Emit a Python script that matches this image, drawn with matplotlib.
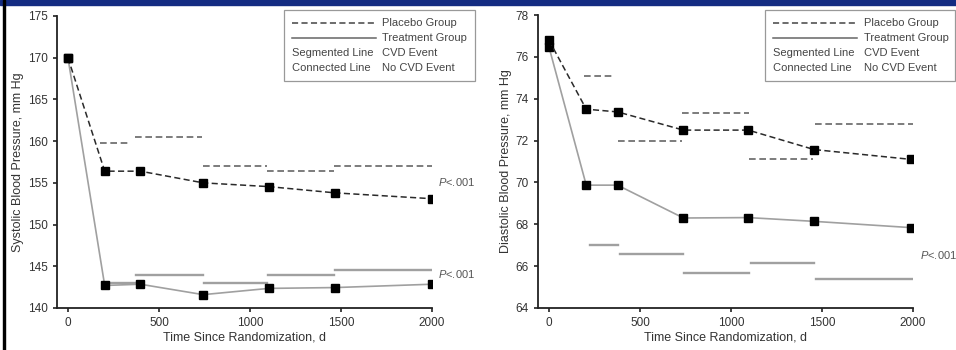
import matplotlib
matplotlib.use("Agg")
import matplotlib.pyplot as plt
from matplotlib.patches import Rectangle

plt.rcParams["font.family"] = ["Liberation Sans", "DejaVu Sans"]
plt.rcParams["mathtext.fontset"] = "custom"
plt.rcParams["mathtext.it"] = "Liberation Sans:italic"
plt.rcParams["mathtext.rm"] = "Liberation Sans"

TXT = "#333333"

# visit days for the connected lines
days = [0, 202, 398, 743, 1103, 1468, 2000]

# systolic, mm Hg
sys_placebo = [170.0, 156.4, 156.4, 155.0, 154.55, 153.8, 153.1]
sys_treat = [170.0, 142.7, 142.85, 141.6, 142.35, 142.45, 142.85]
# segmented lines (CVD event): start day, end day, value
sys_placebo_seg_x0 = [174, 367, 743, 1092, 1464]
sys_placebo_seg_x1 = [349, 734, 1092, 1459, 2000]
sys_placebo_seg_y = [159.8, 160.55, 157.0, 156.4, 157.0]
sys_treat_seg_x0 = [202, 376, 747, 1101, 1468]
sys_treat_seg_x1 = [398, 743, 1092, 1464, 2000]
sys_treat_seg_y = [143.0, 144.0, 143.0, 144.0, 144.6]

# diastolic, mm Hg
dia_days = [0, 205, 377, 739, 1095, 1457, 1990]
dia_placebo = [76.8, 73.5, 73.37, 72.5, 72.5, 71.57, 71.1]
dia_treat = [76.48, 69.87, 69.87, 68.3, 68.32, 68.14, 67.84]
dia_placebo_seg_x0 = [195, 378, 731, 1097, 1463]
dia_placebo_seg_x1 = [350, 731, 1097, 1452, 2000]
dia_placebo_seg_y = [75.08, 71.98, 73.33, 71.1, 72.78]
dia_treat_seg_x0 = [223, 388, 744, 1110, 1466]
dia_treat_seg_x1 = [382, 735, 1101, 1457, 2000]
dia_treat_seg_y = [67.0, 66.56, 65.65, 66.17, 65.37]

fig = plt.figure(figsize=(9.56, 3.5), dpi=100)

# frame decoration: blue band on top, black rule on the left
fig.patches.append(Rectangle((0, 1 - 5 / 350), 1, 5 / 350, transform=fig.transFigure,
                             color="#142c82", zorder=0))
fig.patches.append(Rectangle((3 / 956, 0), 2 / 956, 1, transform=fig.transFigure,
                             color="black", zorder=0))

ax1 = fig.add_axes([57 / 956, 1 - 308 / 350, (432 - 57) / 956, (308 - 16) / 350])
ax2 = fig.add_axes([538 / 956, 1 - 308 / 350, (913 - 538) / 956, (308 - 15) / 350])


def draw(ax, x, plac, treat, px0, px1, py, tx0, tx1, ty, ylim, yticks, ylabel):
    for a, b, y in zip(px0, px1, py):
        ax.plot([a, b], [y, y], color="#666666", lw=1.2, ls=(0, (4, 2.2)))
    for a, b, y in zip(tx0, tx1, ty):
        ax.plot([a, b], [y, y], color="#a0a0a0", lw=1.7)
    ax.plot(x, treat, color="#a0a0a0", lw=1.2, marker="s", ms=6,
            mfc="black", mec="black")
    ax.plot(x, plac, color="#2a2a2a", lw=1.1, ls=(0, (4, 2.2)), marker="s", ms=6,
            mfc="black", mec="black")
    ax.set_xlim(-60, 2000)
    ax.set_ylim(*ylim)
    ax.set_yticks(yticks)
    ax.set_xticks([0, 500, 1000, 1500, 2000])
    for s in ["top", "right"]:
        ax.spines[s].set_visible(False)
    for s in ["left", "bottom"]:
        ax.spines[s].set_linewidth(1.3)
        ax.spines[s].set_color("#222222")
    ax.tick_params(direction="out", length=3, width=1.2, labelsize=8.5,
                   colors="#222222", labelcolor=TXT)
    ax.set_xlabel("Time Since Randomization, d", fontsize=9, color=TXT, labelpad=2)
    ax.set_ylabel(ylabel, fontsize=9, color=TXT, labelpad=3)


draw(ax1, days, sys_placebo, sys_treat, sys_placebo_seg_x0, sys_placebo_seg_x1,
     sys_placebo_seg_y, sys_treat_seg_x0, sys_treat_seg_x1, sys_treat_seg_y,
     (140, 175), [140, 145, 150, 155, 160, 165, 170, 175],
     "Systolic Blood Pressure, mm Hg")
draw(ax2, dia_days, dia_placebo, dia_treat, dia_placebo_seg_x0, dia_placebo_seg_x1,
     dia_placebo_seg_y, dia_treat_seg_x0, dia_treat_seg_x1, dia_treat_seg_y,
     (64, 78), [64, 66, 68, 70, 72, 74, 76, 78],
     "Diastolic Blood Pressure, mm Hg")

pval = r"$\it{P}$<.001"
fig.text(438 / 956, 1 - 182 / 350, pval, fontsize=8, color="#555555", va="center")
fig.text(438 / 956, 1 - 274 / 350, pval, fontsize=8, color="#555555", va="center")
fig.text(920 / 956, 1 - 255 / 350, pval, fontsize=8, color="#555555", va="center")


def legend(x0, x1, xl0, xl1, xt):
    W, H = 956, 350
    fig.patches.append(Rectangle((x0 / W, 1 - 81 / H), (x1 - x0) / W, 71 / H,
                                 transform=fig.transFigure, fill=False,
                                 ec="#999999", lw=0.9))
    rows = [23, 38, 53, 68]
    fig.add_artist(plt.Line2D([xl0 / W, xl1 / W], [1 - rows[0] / H] * 2,
                              color="#444444", lw=1.1, ls=(0, (4, 2.2))))
    fig.add_artist(plt.Line2D([xl0 / W, xl1 / W], [1 - rows[1] / H] * 2,
                              color="#666666", lw=1.1))
    labels = ["Placebo Group", "Treatment Group", "CVD Event", "No CVD Event"]
    for r, lab in zip(rows, labels):
        fig.text(xt / W, 1 - r / H, lab, fontsize=8, color="#444444", va="center")
    fig.text(xl0 / W, 1 - rows[2] / H, "Segmented Line", fontsize=8,
             color="#444444", va="center")
    fig.text(xl0 / W, 1 - rows[3] / H, "Connected Line", fontsize=8,
             color="#444444", va="center")


legend(284, 475, 292, 376, 382)
legend(765, 955, 773, 857, 864)

fig.savefig("out.png", dpi=100)
